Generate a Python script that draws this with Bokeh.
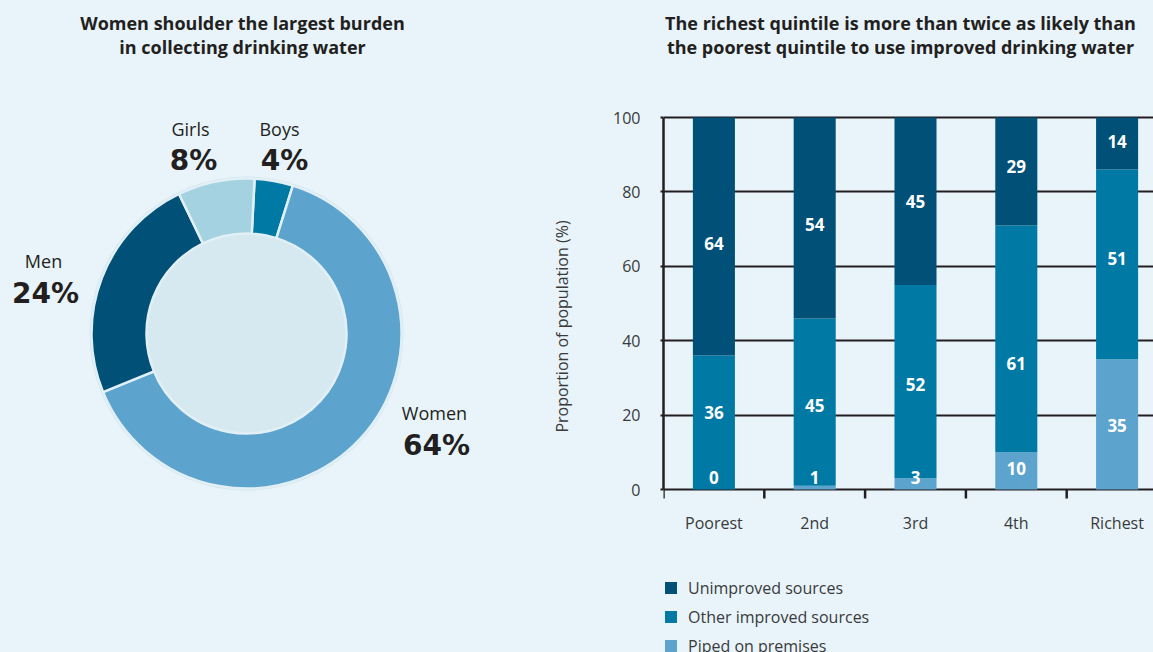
import numpy as np
from bokeh.plotting import figure
from bokeh.models import Range1d, ColumnDataSource, FixedTicker, Legend, LegendItem
from bokeh.layouts import row
from bokeh.embed import file_html
from bokeh.resources import INLINE
from bokeh.core.properties import value

# ---------------- data ----------------
groups = ["Boys", "Women", "Men", "Girls"]          # clockwise from the top
shares = [4, 64, 24, 8]
group_colors = ["#0079a4", "#5ca4cd", "#005078", "#a4d2e0"]

quintiles = ["Poorest", "2nd", "3rd", "4th", "Richest"]
piped = [0, 1, 3, 10, 35]
other_improved = [36, 45, 52, 61, 51]
unimproved = [64, 54, 45, 29, 14]
series_names = ["Piped on premises", "Other improved sources", "Unimproved sources"]
series_colors = ["#5ca4cd", "#0079a4", "#005078"]
y_ticks = [0, 20, 40, 60, 80, 100]

left_title = ["Women shoulder the largest burden", "in collecting drinking water"]
right_title = ["The richest quintile is more than twice as likely than",
               "the poorest quintile to use improved drinking water"]

# ---------------- layout / style ----------------
BG = "#e8f4fa"
DARK = "#231f20"
TXT = "#3a3a3a"
FONT_NAME = "Open Sans"
FONT = value(FONT_NAME)
H = 652
LW = 540
RW = 613
AXIS_X = 663           # page x of the bar chart's y axis
ZERO_Y = 489           # page y of the 0 % line
PX_PER_UNIT = 3.72     # vertical pixels per percentage point
PX_PER_CAT = 100.8     # horizontal pixels per quintile

# label heights (in % units) inside each bar segment, as placed in the original
piped_label_y = [3.3, 3.3, 3.3, 5.6, 17.2]
other_label_y = [20.8, 22.6, 28.3, 33.9, 62.0]
unimp_label_y = [66.2, 71.2, 77.4, 86.9, 93.6]


def fy(Y):             # left panel: page y -> data y
    return H - Y


def xd(X):             # right panel: page x -> data x
    return -0.5 + (X - AXIS_X) / PX_PER_CAT


def yd(Y):             # right panel: page y -> data y
    return (ZERO_Y - Y) / PX_PER_UNIT


# ---------------- left: donut ----------------
pl = figure(width=LW, height=H, x_range=Range1d(0, LW), y_range=Range1d(0, H),
            output_backend="svg", toolbar_location=None,
            x_axis_type=None, y_axis_type=None, min_border=0,
            background_fill_color=None, border_fill_color=BG, outline_line_color=None)
pl.grid.visible = False

cx, cy = 246, fy(333)
r_out, r_in = 155, 100
offset_deg = 3.0
cum = np.cumsum([0] + shares)
theta_start = offset_deg + 360.0 * cum[:-1] / 100.0
theta_end = offset_deg + 360.0 * cum[1:] / 100.0
wsrc = ColumnDataSource(dict(start=np.radians(90 - theta_start),
                             end=np.radians(90 - theta_end),
                             color=group_colors, group=groups))

pl.circle(x=cx, y=cy, radius=r_out + 1.0, fill_color=None, line_color="#d3e7ef", line_width=2)
pl.circle(x=cx, y=cy, radius=r_in, fill_color="#d6e9f0", line_color=None)
pl.annular_wedge(x=cx, y=cy, inner_radius=r_in, outer_radius=r_out,
                 start_angle="start", end_angle="end", direction="clock",
                 fill_color="color", line_color="#e2f0f6", line_width=2.5, source=wsrc)

# label anchors (layout, page pixels): Boys, Women, Men, Girls
name_pos = [(279, 128), (434, 412), (43, 260), (190, 128)]
pct_pos = [(284, 160), (436, 445), (45, 293), (193, 160)]
nsrc = ColumnDataSource(dict(x=[p[0] for p in name_pos], y=[fy(p[1]) for p in name_pos],
                             t=groups))
psrc = ColumnDataSource(dict(x=[p[0] for p in pct_pos], y=[fy(p[1]) for p in pct_pos],
                             t=[f"{s}%" for s in shares]))
pl.text(x="x", y="y", text="t", source=nsrc, text_align="center", text_baseline="middle",
        text_font=FONT, text_font_size="18px", text_color=DARK)
pl.text(x="x", y="y", text="t", source=psrc, text_align="center", text_baseline="middle",
        text_font=value("DejaVu Sans"), text_font_size="28px", text_font_style="bold",
        text_color=DARK)

ltsrc = ColumnDataSource(dict(x=[242, 242], y=[fy(22), fy(46)], t=left_title))
pl.text(x="x", y="y", text="t", source=ltsrc, text_align="center", text_baseline="middle",
        text_font=FONT, text_font_size="18px", text_font_style="bold", text_color=DARK)

# ---------------- right: stacked bars ----------------
pr = figure(width=RW, height=H,
            x_range=Range1d(xd(AXIS_X), xd(AXIS_X + RW - 123)),
            y_range=Range1d(yd(H), yd(0)),
            output_backend="svg", toolbar_location=None, x_axis_location=None,
            min_border_left=123, min_border_right=0, min_border_top=0, min_border_bottom=0,
            background_fill_color=None, border_fill_color=BG, outline_line_color=None)

xs = list(range(len(quintiles)))
bsrc = ColumnDataSource(dict(x=xs, piped=piped, other=other_improved, unimp=unimproved))
rs = pr.vbar_stack(["piped", "other", "unimp"], x="x", width=0.417,
                   fill_color=series_colors, line_color=None, source=bsrc)

# value labels in each segment
lx, ly, lt = [], [], []
for vals, ys in ((piped, piped_label_y), (other_improved, other_label_y),
                 (unimproved, unimp_label_y)):
    for i in range(len(xs)):
        lx.append(xs[i])
        ly.append(ys[i])
        lt.append(str(vals[i]))
lsrc = ColumnDataSource(dict(x=lx, y=ly, t=lt))
pr.text(x="x", y="y", text="t", source=lsrc, text_align="center", text_baseline="middle",
        text_font=FONT, text_font_size="17px", text_font_style="bold", text_color="white")

# grid
pr.xgrid.visible = False
pr.ygrid.ticker = FixedTicker(ticks=y_ticks)
pr.ygrid.grid_line_color = DARK
pr.ygrid.grid_line_width = 2

# y axis
yax = pr.yaxis[0]
yax.ticker = FixedTicker(ticks=y_ticks)
yax.bounds = (0, 100)
yax.axis_line_color = DARK
yax.axis_line_width = 2.5
yax.major_tick_out = 3
yax.major_tick_in = 0
yax.major_tick_line_color = DARK
yax.major_tick_line_width = 2
yax.minor_tick_line_color = None
yax.major_label_standoff = 20
yax.major_label_text_font = FONT_NAME
yax.major_label_text_font_size = "16px"
yax.major_label_text_color = TXT
yax.axis_label = "Proportion of population (%)"
yax.axis_label_text_font = FONT_NAME
yax.axis_label_text_font_size = "16px"
yax.axis_label_text_font_style = "normal"
yax.axis_label_text_color = TXT
yax.axis_label_standoff = 37

# category axis along the 0 % line: tick marks at category boundaries, names at centres
tick_len = 9 / PX_PER_UNIT
bounds_x = [i - 0.5 for i in range(len(xs) + 1)]
pr.segment(x0=bounds_x, y0=[0] * len(bounds_x), x1=bounds_x, y1=[-tick_len] * len(bounds_x),
           line_color=DARK, line_width=2.5)
csrc = ColumnDataSource(dict(x=xs, y=[yd(522)] * len(xs), t=quintiles))
pr.text(x="x", y="y", text="t", source=csrc, text_align="center", text_baseline="middle",
        text_font=FONT, text_font_size="16px", text_color=TXT)

# title
rtsrc = ColumnDataSource(dict(x=[xd(900), xd(900)], y=[yd(22), yd(46)], t=right_title))
pr.text(x="x", y="y", text="t", source=rtsrc, text_align="center", text_baseline="middle",
        text_font=FONT, text_font_size="18px", text_font_style="bold", text_color=DARK)

# legend (top item first), inside the frame below the categories
legend = Legend(items=[LegendItem(label=series_names[i], renderers=[rs[i]]) for i in (2, 1, 0)],
                location=(0, -4.5), orientation="vertical",
                glyph_width=15, glyph_height=15, label_height=22, spacing=7,
                label_standoff=10, padding=0, margin=0,
                border_line_color=None, background_fill_alpha=0,
                label_text_font=FONT_NAME, label_text_font_size="16px", label_text_color=TXT)
pr.add_layout(legend)

layout = row(pl, pr)
html = file_html(layout, INLINE)
html = html.replace("</head>", "<style>html, body { background: %s; }</style></head>" % BG, 1)
open("out.html", "w").write(html)
